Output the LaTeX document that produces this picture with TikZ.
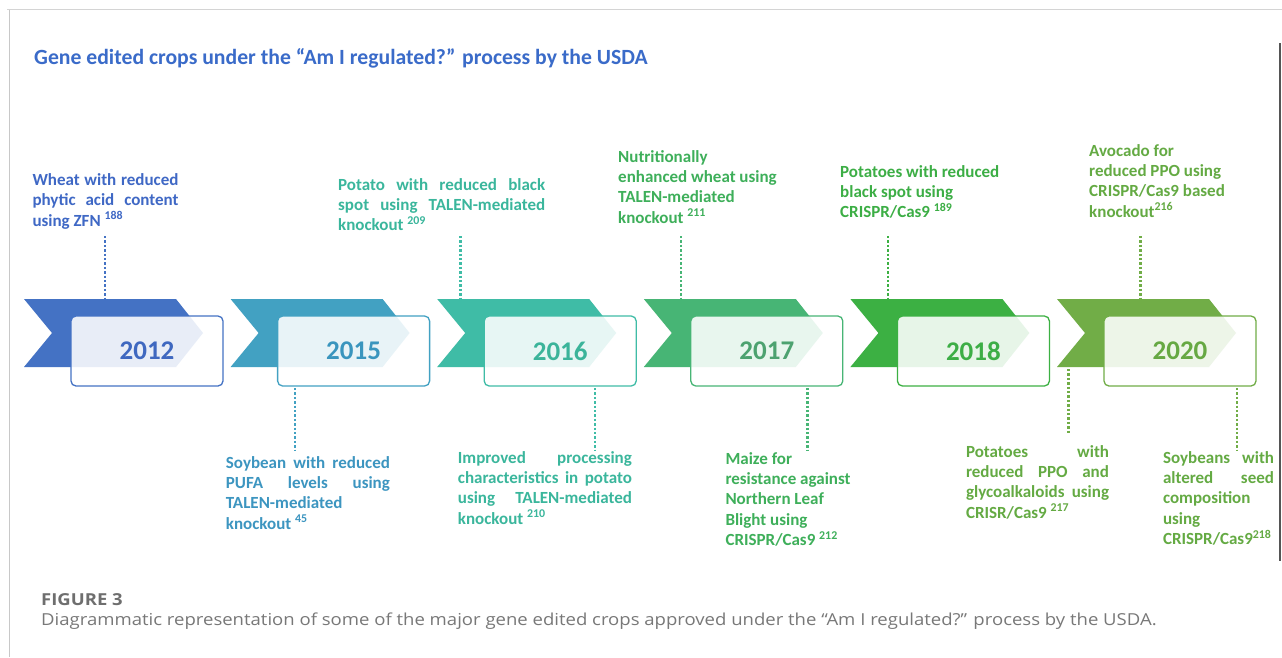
\documentclass[tikz,border=0pt]{standalone}
\usepackage{fontspec}
\setmainfont{Carlito}
\newfontfamily\capfont{Open Sans}

% chevron fills
\definecolor{c12}{HTML}{4472C4}
\definecolor{c15}{HTML}{42A1C2}
\definecolor{c16}{HTML}{3FBCA6}
\definecolor{c17}{HTML}{47B575}
\definecolor{c18}{HTML}{3CB043}
\definecolor{c20}{HTML}{71AD47}
% year numbers
\definecolor{y12}{HTML}{3F68C0}
\definecolor{y15}{HTML}{3A95BE}
\definecolor{y16}{HTML}{3BB49A}
\definecolor{y17}{HTML}{4DA270}
\definecolor{y18}{HTML}{3DAE46}
\definecolor{y20}{HTML}{66A843}
% description texts
\definecolor{t12}{HTML}{3F68C5}
\definecolor{t15}{HTML}{3C95C0}
\definecolor{t16}{HTML}{3AB69C}
\definecolor{t17}{HTML}{3EAF5A}
\definecolor{t18}{HTML}{3CAE45}
\definecolor{t20}{HTML}{64AA43}
\definecolor{titleblue}{HTML}{3A6BC9}
\definecolor{capgray}{HTML}{787878}
\definecolor{figgray}{HTML}{6E6E6E}

% a line stretched to the full width of the surrounding parbox
\newcommand\jl[1]{\makebox[\linewidth][s]{#1}}
% one chevron: left x, colour
\newcommand\chevron[2]{%
  \fill[#2] (#1,299) -- ++(152,0) -- ++(27,34) -- ++(-27,34) -- (#1,367) -- ++(28,-34) -- cycle;}

\begin{document}
\begin{tikzpicture}[x=1pt,y=-1pt,
  yearbox/.style={draw=#1, line width=1.3pt, rounded corners=5pt, fill=white,
    fill opacity=0.88, text opacity=1, minimum width=152pt, minimum height=70pt,
    inner sep=0pt, font=\fontsize{27}{27}\selectfont\bfseries},
  dots/.style={draw=#1, line width=2.7pt, dash pattern=on 2.3pt off 2.1pt},
  lbl/.style={anchor=base west, inner sep=0pt,
    font=\fontsize{17}{20.2}\selectfont\bfseries, text=#1}]

\useasboundingbox (0,0) rectangle (1282,657);
\fill[white] (0,0) rectangle (1282,657);

% frame
\draw[color={rgb,255:red,212;green,212;blue,212}, line width=1.3pt] (7,9.5) -- (1282,9.5);
\draw[color={rgb,255:red,200;green,200;blue,200}, line width=1.1pt] (9.5,9.5) -- (9.5,657);
\draw[color={rgb,255:red,85;green,85;blue,85}, line width=2pt] (1280,43) -- (1280,561);

% title
\node[anchor=base west, inner sep=0pt, text=titleblue,
  font=\fontsize{21.7}{24}\selectfont\bfseries] (title) at (34,64)
  {Gene edited crops under the “Am I regulated?” process by the USDA};

% chevrons
\chevron{24}{c12}
\chevron{230.6}{c15}
\chevron{437.2}{c16}
\chevron{643.8}{c17}
\chevron{850.4}{c18}
\chevron{1057}{c20}

% year boxes
\node[yearbox=c12, text=y12] (b12) at (147,351) {2012};
\node[yearbox=c15, text=y15] (b15) at (353.6,351) {2015};
\node[yearbox=c16, text=y16] (b16) at (560.2,351) {2016};
\node[yearbox=c17, text=y17] (b17) at (766.8,351) {2017};
\node[yearbox=c18, text=y18] (b18) at (973.4,351) {2018};
\node[yearbox=c20, text=y20] (b20) at (1180,351) {2020};

% dotted leaders above
\coordinate (u12a) at (105,236);    \coordinate (u12b) at (105,299);
\coordinate (u16a) at (460.7,236);  \coordinate (u16b) at (460.7,299);
\coordinate (u17a) at (681,236);    \coordinate (u17b) at (681,299);
\coordinate (u18a) at (888,236);    \coordinate (u18b) at (888,299);
\coordinate (u20a) at (1140.7,236); \coordinate (u20b) at (1140.7,299);
\draw[dots=c12] (u12a) -- (u12b);
\draw[dots=c16] (u16a) -- (u16b);
\draw[dots=c17] (u17a) -- (u17b);
\draw[dots=c18] (u18a) -- (u18b);
\draw[dots=c20] (u20a) -- (u20b);

% dotted leaders below
\coordinate (d15a) at (295,388);    \coordinate (d15b) at (295,450);
\coordinate (d16a) at (595,388);    \coordinate (d16b) at (595,450);
\coordinate (d17a) at (807.3,388);  \coordinate (d17b) at (807.3,450);
\coordinate (d20a) at (1068.5,369); \coordinate (d20b) at (1068.5,433);
\coordinate (d20c) at (1237,388);   \coordinate (d20d) at (1237,450);
\draw[dots=c15] (d15a) -- (d15b);
\draw[dots=c16] (d16a) -- (d16b);
\draw[dots=c17] (d17a) -- (d17b);
\draw[dots=c20] (d20a) -- (d20b);
\draw[dots=c20] (d20c) -- (d20d);

% descriptions above the timeline
\node[lbl=t12] (l12) at (32.3,185.7) {\parbox[t]{146pt}{%
  \jl{Wheat with reduced}\\ \jl{phytic acid content}\\ using ZFN \textsuperscript{188}}};
\node[lbl=t16] (l16a) at (338,190.5) {\parbox[t]{207pt}{%
  \jl{Potato with reduced black}\\ \jl{spot using TALEN-mediated}\\ knockout \textsuperscript{209}}};
\node[lbl=t17] (l17a) at (618,162.5) {\parbox[t]{200pt}{%
  Nutritionally\\ enhanced wheat using\\ TALEN-mediated\\ knockout \textsuperscript{211}}};
\node[lbl=t18] (l18) at (840,177.5) {\parbox[t]{200pt}{%
  Potatoes with reduced\\ black spot using\\ CRISPR/Cas9 \textsuperscript{189}}};
\node[lbl=t20] (l20a) at (1089,156.5) {\parbox[t]{170pt}{%
  Avocado for\\ reduced PPO using\\ CRISPR/Cas9 based\\ knockout\textsuperscript{216}}};

% descriptions below the timeline
\node[lbl=t15] (l15) at (225.7,468.5) {\parbox[t]{164pt}{%
  \jl{Soybean with reduced}\\ \jl{PUFA levels using}\\ TALEN-mediated\\ knockout \textsuperscript{45}}};
\node[lbl=t16] (l16b) at (457.7,463.5) {\parbox[t]{174pt}{%
  \jl{Improved processing}\\ \jl{characteristics in potato}\\ \jl{using TALEN-mediated}\\ knockout \textsuperscript{210}}};
\node[lbl=t17] (l17b) at (725.3,464.5) {\parbox[t]{180pt}{%
  Maize for\\ resistance against\\ Northern Leaf\\ Blight using\\ CRISPR/Cas9 \textsuperscript{212}}};
\node[lbl=t20] (l20b) at (965.8,457.5) {\parbox[t]{143pt}{%
  \jl{Potatoes with}\\ \jl{reduced PPO and}\\ \jl{glycoalkaloids using}\\ CRISR/Cas9 \textsuperscript{217}}};
\node[lbl=t20] (l20c) at (1162.8,463.5) {\parbox[t]{111pt}{%
  \jl{Soybeans with}\\ \jl{altered seed}\\ composition\\ using\\ CRISPR/Cas9\textsuperscript{218}}};

% caption
\node[anchor=base west, inner sep=0pt, text=figgray,
  font=\capfont\fontsize{16.5}{18}\selectfont\bfseries] (fig) at (41,605.7)
  {\scalebox{1.12}[1]{FIGURE 3}};
\node[anchor=base west, inner sep=0pt, text=capgray,
  font=\capfont\fontsize{16.5}{18}\selectfont] (cap) at (41,625)
  {\scalebox{1.123}[1]{Diagrammatic representation of some of the major gene edited crops approved under the “Am I regulated?” process by the USDA.}};
\end{tikzpicture}
\end{document}
